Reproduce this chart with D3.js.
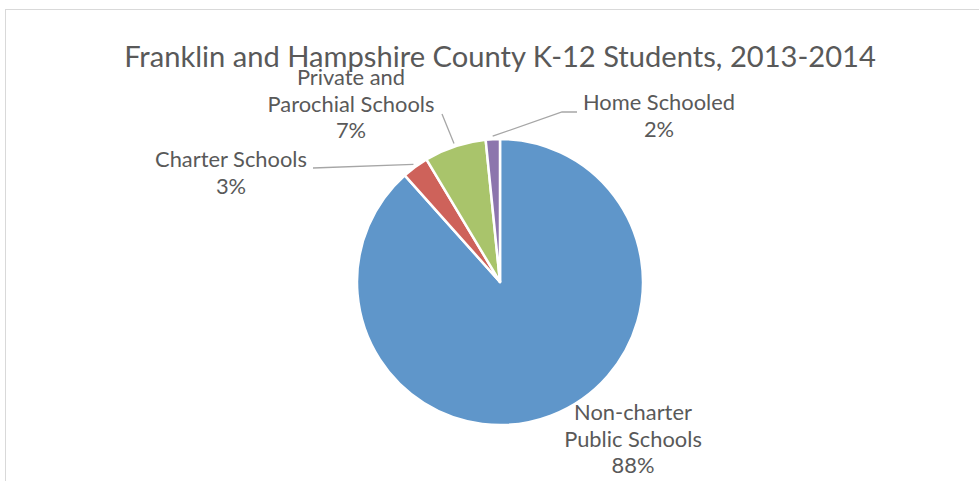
<!DOCTYPE html>
<html>
<head>
<meta charset="utf-8">
<script src="https://cdn.jsdelivr.net/npm/d3@7"></script>
<style>
  body { margin: 0; background: #fff; }
  svg { display: block; font-family: Lato, "Open Sans", sans-serif; }
</style>
</head>
<body>
<div id="chart"></div>
<script>
// data (share of students, %)
const categories = ["Non-charter Public Schools", "Charter Schools", "Private and Parochial Schools", "Home Schooled"];
const shares = [88.4, 3.0, 7.0, 1.6];
const labelLines = [
  ["Non-charter", "Public Schools"],
  ["Charter Schools"],
  ["Private and", "Parochial Schools"],
  ["Home Schooled"]
];
const colors = ["#5f96ca", "#ce625a", "#a9c46b", "#8c75ad"];
const title = "Franklin and Hampshire County K-12 Students, 2013-2014";

const width = 979, height = 481;
const cx = 500, cy = 282, radius = 143;

// label layout, relative to pie centre: text anchor point, leader line points
const labelLayout = [
  { x: 133, y: 138, line: null },
  { x: -269, y: -115, line: [[-187, -114]] },
  { x: -149, y: -197, line: [[-58, -168]] },
  { x: 159, y: -172, line: [[62, -170], [77, -170]] }
];

const svg = d3.select('#chart')
  .append('svg')
  .attr('width', width)
  .attr('height', height);

// chart frame
svg.append('rect')
  .attr('x', 5.5).attr('y', 9.5)
  .attr('width', 1000).attr('height', 600)
  .attr('fill', 'none')
  .attr('stroke', '#d9d9d9');

// title, sized to the reference width
const titleText = svg.append('text')
  .attr('x', cx).attr('y', 67)
  .attr('text-anchor', 'middle')
  .attr('fill', '#595959')
  .style('font-size', '28px')
  .text(title);
const tw = titleText.node().getComputedTextLength();
titleText.style('font-size', (28 * 752 / tw) + 'px');

const pie = d3.pie().sort(null).value(d => d)(shares);
const arc = d3.arc().innerRadius(0).outerRadius(radius);
const g = svg.append('g').attr('transform', `translate(${cx},${cy})`);

g.selectAll('path')
  .data(pie)
  .enter()
  .append('path')
  .attr('d', arc)
  .attr('fill', (d, i) => colors[i])
  .attr('stroke', '#fff')
  .attr('stroke-width', 2.5)
  .attr('stroke-linejoin', 'round');

// leader lines
const startArc = d3.arc().innerRadius(radius + 3).outerRadius(radius + 3);
pie.forEach((d, i) => {
  const lay = labelLayout[i];
  if (!lay.line) return;
  const p0 = startArc.centroid(d);
  g.append('path')
    .attr('d', d3.line()([p0].concat(lay.line)))
    .attr('fill', 'none')
    .attr('stroke', '#a6a6a6')
    .attr('stroke-width', 1.3);
});

// measure label font size from "Parochial Schools" (167px wide in reference)
const probe = svg.append('text').style('font-size', '20px').text('Parochial Schools');
const labelSize = 20 * 167 / probe.node().getComputedTextLength();
probe.remove();

const lineGap = 26.5;
pie.forEach((d, i) => {
  const lay = labelLayout[i];
  const lines = labelLines[i].concat([Math.round(shares[i]) + '%']);
  const t = g.append('text')
    .attr('text-anchor', 'middle')
    .attr('fill', '#595959')
    .style('font-size', labelSize + 'px');
  lines.forEach((s, k) => {
    t.append('tspan')
      .attr('x', lay.x)
      .attr('y', lay.y + k * lineGap)
      .text(s);
  });
});
</script>
</body>
</html>
